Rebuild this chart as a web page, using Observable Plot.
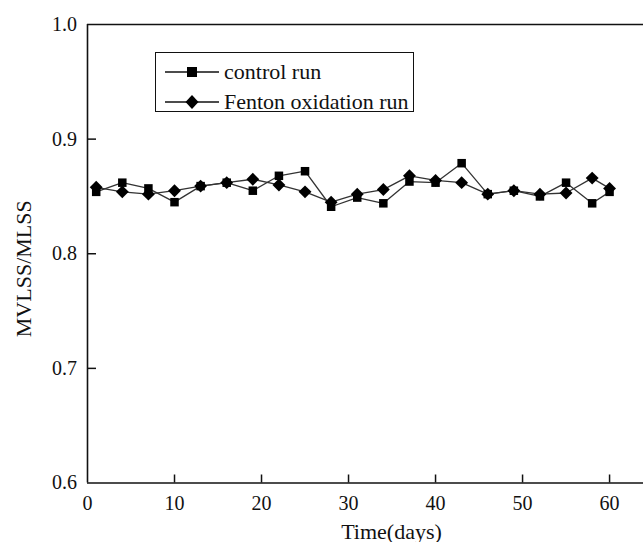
<!DOCTYPE html>
<html>
<head>
<meta charset="utf-8">
<script src="https://cdn.jsdelivr.net/npm/d3@7"></script>
<script src="https://cdn.jsdelivr.net/npm/@observablehq/plot@0.6"></script>
<style>
  body { margin: 0; background: #fff; }
  #wrap { position: relative; width: 643px; height: 542px; font-family: "Liberation Serif", serif; }
  #legend { position: absolute; left: 155px; top: 52px; width: 257px; height: 58px; border: 1.5px solid #111; background: #fff; font-family: "Liberation Serif", serif; font-size: 22px; color: #111; white-space: nowrap; }
  .row { position: absolute; left: 9px; height: 24px; display: flex; align-items: center; white-space: nowrap; }
  .row span { margin-left: 5px; line-height: 24px; white-space: nowrap; }
</style>
</head>
<body>
<div id="wrap"></div>
<script>
const days = [1, 4, 7, 10, 13, 16, 19, 22, 25, 28, 31, 34, 37, 40, 43, 46, 49, 52, 55, 58, 60];
const controlRun = [0.854, 0.862, 0.857, 0.845, 0.859, 0.862, 0.855, 0.868, 0.872, 0.841, 0.849, 0.844, 0.863, 0.862, 0.879, 0.852, 0.855, 0.850, 0.862, 0.844, 0.854];
const fentonRun = [0.858, 0.854, 0.852, 0.855, 0.859, 0.862, 0.865, 0.860, 0.854, 0.845, 0.852, 0.856, 0.868, 0.864, 0.862, 0.852, 0.855, 0.852, 0.853, 0.866, 0.857];
const seriesNames = ["control run", "Fenton oxidation run"];
const xTicks = [0, 10, 20, 30, 40, 50, 60];
const yTicks = [0.6, 0.7, 0.8, 0.9, 1.0];
const xTitle = "Time(days)";
const yTitle = "MVLSS/MLSS";

const control = days.map((d, i) => ({day: d, v: controlRun[i]}));
const fenton = days.map((d, i) => ({day: d, v: fentonRun[i]}));

const W = 643, H = 542, mL = 87, mR = 0, mT = 24, mB = 59.5;
const plotH = H - mT - mB, plotW = W - mL - mR;
const font = '"Liberation Serif", serif';

const chart = Plot.plot({
  width: W, height: H,
  marginLeft: mL, marginRight: mR, marginTop: mT, marginBottom: mB,
  style: {fontFamily: font, fontSize: "20px", color: "#111", background: "#fff", overflow: "visible"},
  x: {domain: [0, 63.9]},
  y: {domain: [0.6, 1.0]},
  marks: [
    Plot.ruleY([0.6, 1.0], {stroke: "#111", strokeWidth: 1.6}),
    Plot.ruleX([0], {stroke: "#111", strokeWidth: 1.6}),
    Plot.tickX(xTicks.slice(1), {x: d => d, stroke: "#111", strokeWidth: 1.5, insetTop: plotH - 8}),
    Plot.tickY(yTicks.slice(1, -1), {y: d => d, stroke: "#111", strokeWidth: 1.5, insetRight: plotW - 9}),
    Plot.axisX({ticks: xTicks, tickSize: 0, tickPadding: 13, tickFormat: d => String(d), fontSize: 20, label: null}),
    Plot.axisY({ticks: yTicks, tickSize: 0, tickPadding: 10.5, tickFormat: d3.format(".1f"), fontSize: 20, label: null}),
    Plot.text([xTitle], {text: d => d, frameAnchor: "bottom", textAnchor: "middle", lineAnchor: "middle", dx: 26, dy: 48.5, fontSize: 22, fill: "#111"}),
    Plot.text([yTitle], {text: d => d, frameAnchor: "left", textAnchor: "middle", lineAnchor: "middle", rotate: -90, dx: -64, dy: 15, fontSize: 22, fill: "#111"}),
    Plot.line(control, {x: "day", y: "v", stroke: "#333", strokeWidth: 1.3}),
    Plot.line(fenton, {x: "day", y: "v", stroke: "#333", strokeWidth: 1.3}),
    Plot.dot(control, {x: "day", y: "v", symbol: "square", r: 4.8, fill: "#000", stroke: "none"}),
    Plot.dot(fenton, {x: "day", y: "v", symbol: "diamond2", r: 5.8, fill: "#000", stroke: "none"})
  ]
});

const wrap = document.getElementById("wrap");
wrap.appendChild(chart);

const legend = document.createElement("div");
legend.id = "legend";
const syms = ["square", "diamond"];
seriesNames.forEach((name, i) => {
  const row = document.createElement("div");
  row.className = "row";
  row.style.top = (i === 0 ? 6.5 : 36.5) + "px";
  const marker = syms[i] === "square"
    ? '<rect x="22" y="7" width="10" height="10" fill="#000"/>'
    : '<polygon points="27,5 33.5,12 27,19 20.5,12" fill="#000"/>';
  row.innerHTML = `<svg width="54" height="24" style="display:block"><line x1="0" x2="54" y1="12" y2="12" stroke="#111" stroke-width="1.5"/>${marker}</svg><span>${name}</span>`;
  legend.appendChild(row);
});
wrap.appendChild(legend);
</script>
</body>
</html>
